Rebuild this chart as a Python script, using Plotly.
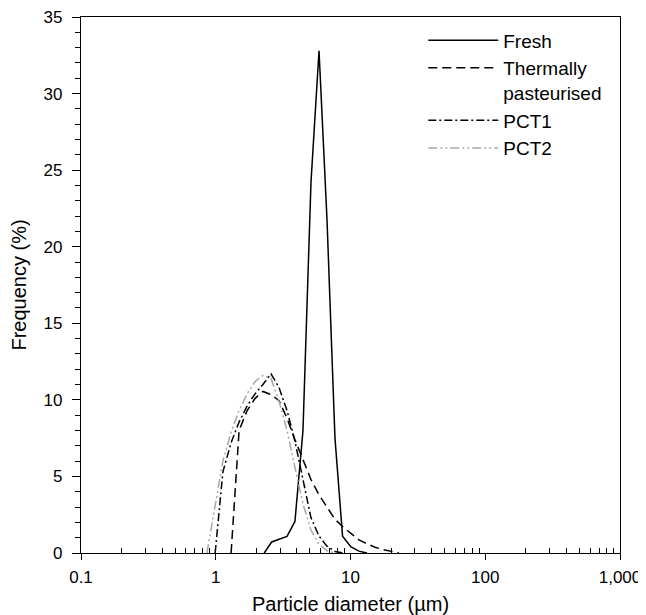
import plotly.graph_objects as go

# particle size bins (um), log spaced
fresh_d = [2.29, 2.60, 2.95, 3.38, 3.87, 4.44, 5.09, 5.84, 6.69, 7.67, 8.73, 10.09, 11.56, 13.26]
fresh_f = [0.0, 0.72, 0.90, 1.08, 2.06, 8.0, 24.2, 32.8, 21.8, 7.5, 1.1, 0.4, 0.12, 0.0]

thermal_d = [1.30, 1.49, 1.71, 1.96, 2.24, 2.57, 2.95, 3.38, 3.87, 4.44, 5.09, 5.84, 6.69,
             7.67, 8.80, 10.09, 11.56, 13.26, 15.20, 17.43, 19.98, 22.91]
thermal_f = [0.0, 8.0, 9.3, 10.1, 10.55, 10.35, 9.95, 8.8, 7.4, 6.1, 4.8, 3.8, 3.0,
             2.2, 1.7, 1.3, 0.85, 0.6, 0.38, 0.22, 0.1, 0.0]

pct1_d = [0.99, 1.13, 1.30, 1.49, 1.71, 1.96, 2.24, 2.57, 2.95, 3.38, 3.87, 4.44, 5.09,
          5.84, 6.69, 7.67, 8.80]
pct1_f = [0.0, 5.3, 7.2, 8.55, 9.6, 10.4, 11.0, 11.7, 10.8, 9.3, 7.3, 4.8, 2.3,
          1.1, 0.45, 0.1, 0.0]

pct2_d = [0.86, 0.99, 1.13, 1.30, 1.49, 1.71, 1.96, 2.24, 2.57, 2.95, 3.38, 3.87, 4.44,
          5.09, 5.84, 6.69, 7.67]
pct2_f = [0.0, 3.2, 6.0, 7.9, 9.3, 10.4, 11.2, 11.6, 11.4, 9.9, 8.0, 5.6, 3.2,
          1.5, 0.55, 0.15, 0.0]

x_tickvals = [0.1, 1, 10, 100, 1000]
x_ticktext = ["0.1", "1", "10", "100", "1,000"]
x_minorvals = [m * 10 ** e for e in range(-1, 3) for m in range(2, 10)]

FONT = "Arial, Liberation Sans, sans-serif"

series = [
    ("Fresh", fresh_d, fresh_f, "black", "solid"),
    ("Thermally<br>pasteurised", thermal_d, thermal_f, "black", "9px,5px"),
    ("PCT1", pct1_d, pct1_f, "black", "8px,3px,2px,3px"),
    ("PCT2", pct2_d, pct2_f, "#a8a8a8", "9px,3px,2px,3px,2px,3px"),
]

fig = go.Figure()
for name, xs, ys, color, dash in series:
    fig.add_trace(
        go.Scatter(
            x=xs,
            y=ys,
            mode="lines",
            name=name,
            line={"color": color, "width": 1.5, "dash": dash},
        )
    )

fig.update_xaxes(
    type="log",
    range=[-1, 3],
    automargin=False,
    tickmode="array",
    tickvals=x_tickvals,
    ticktext=x_ticktext,
    ticks="outside",
    ticklen=6,
    tickwidth=1.2,
    tickcolor="black",
    ticklabelstandoff=2,
    ticklabeloverflow="allow",
    minor={"tickmode": "array", "tickvals": x_minorvals, "ticks": "inside", "ticklen": 5,
           "tickwidth": 1.2, "tickcolor": "black", "showgrid": False},
    showline=True,
    linecolor="black",
    linewidth=1.3,
    mirror=True,
    showgrid=False,
    zeroline=False,
    title={"text": "Particle diameter (µm)", "standoff": 14},
)
fig.update_yaxes(
    range=[0, 35],
    automargin=False,
    dtick=5,
    ticks="outside",
    ticklen=8,
    tickwidth=1.2,
    tickcolor="black",
    ticklabelstandoff=6,
    ticklabeloverflow="allow",
    minor={"dtick": 1, "ticks": "outside", "ticklen": 5, "tickwidth": 1.2,
           "tickcolor": "black", "showgrid": False},
    showline=True,
    linecolor="black",
    linewidth=1.3,
    mirror=True,
    showgrid=False,
    zeroline=False,
    title={"text": "Frequency (%)", "standoff": 12},
)
# the page sits 8px in from the window's corner, so the figure is sized to the visible area
fig.update_layout(
    width=638,
    height=607,
    margin={"l": 73, "r": 26, "t": 9, "b": 62},
    plot_bgcolor="white",
    paper_bgcolor="white",
    font={"family": FONT, "size": 17, "color": "black"},
    legend={
        "x": 0.635,
        "y": 0.992,
        "xanchor": "left",
        "yanchor": "top",
        "itemwidth": 70,
        "valign": "top",
        "bgcolor": "rgba(0,0,0,0)",
        "font": {"family": FONT, "size": 19, "color": "black"},
        "tracegroupgap": 0,
    },
)

fig.write_html("out.html")
